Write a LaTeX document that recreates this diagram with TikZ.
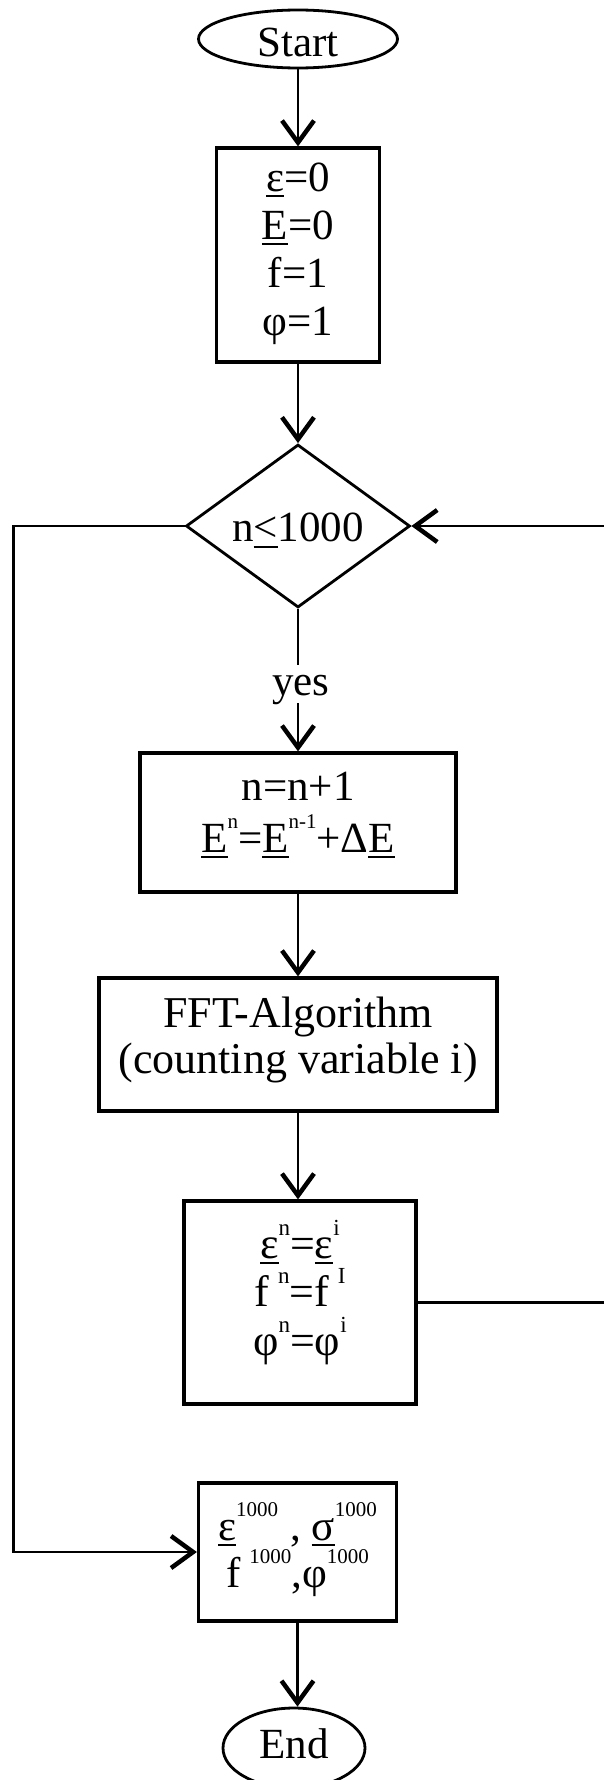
\documentclass[tikz,border=0pt]{standalone}
\usepackage{fontspec}
\setmainfont{Liberation Serif}
\usetikzlibrary{shapes.geometric,arrows.meta}

% underlined symbol with a rule a little below the baseline
\newcommand\ubar[1]{\setbox0=\hbox{#1}\rlap{\rule[-6pt]{\wd0}{2pt}}\box0\relax}
% small raised index, kept out of the line height
\newcommand\hi[1]{\raisebox{24pt}[0pt][0pt]{\fontsize{21}{21}\selectfont #1}}
\newcommand\hib[1]{\raisebox{23pt}[0pt][0pt]{\fontsize{23}{23}\selectfont #1}}

\begin{document}
\begin{tikzpicture}[x=1pt,y=-1pt,
  every node/.style={font=\fontsize{43}{48}\selectfont, inner sep=0pt, align=center},
  box/.style={draw, rectangle, line width=3.2pt},
  term/.style={draw, ellipse, line width=2.8pt},
  link/.style={line width=2.9pt},
  arr/.style={link, -{Straight Barb[length=22pt,width=32pt,line width=4.5pt]}}]

\useasboundingbox (0,0) rectangle (604,1780);

% nodes (text height/depth are measured from the last line's baseline)
\node[term, minimum width=199pt, minimum height=58pt, text height=35pt, text depth=0pt]
  (start) at (298,39) {Start};
\node[box, minimum width=163pt, minimum height=214pt, text height=160pt, text depth=0pt]
  (init) at (298,255) {\ubar{ε}=0\\\ubar{E}=0\\f=1\\φ=1};
\node[draw, diamond, line width=2.8pt, aspect=1.37, minimum width=224pt, minimum height=163pt,
  text height=31pt, text depth=0pt] (cond) at (298,526) {n\ubar{<}1000};
\node[text height=30pt, text depth=8pt, anchor=base] (yes) at (301,695) {yes};
\node[box, minimum width=316pt, minimum height=139pt, font=\fontsize{43}{52}\selectfont,
  text height=65pt, text depth=6pt]
  (incr) at (298,822.5) {n=n+1\\\ubar{E}\hi{n}=\ubar{E}\hi{n-1}+Δ\ubar{E}};
\node[box, minimum width=398pt, minimum height=133pt, font=\fontsize{44}{46}\selectfont,
  text height=67pt, text depth=10pt]
  (fft) at (298,1044.5) {FFT-Algorithm\\(counting variable i)};
\node[box, minimum width=232pt, minimum height=203pt, font=\fontsize{44}{48.5}\selectfont,
  text height=114pt, text depth=9pt]
  (copy) at (300,1302.5)
  {\ubar{ε}\hib{n}=\ubar{ε}\hib{i}\\f\hspace{9pt}\hib{n}=f\hspace{9pt}\hib{I}\\φ\hib{n}=φ\hib{i}};
\node[box, minimum width=198pt, minimum height=138pt, font=\fontsize{43}{47}\selectfont,
  text height=76pt, text depth=6pt]
  (result) at (297.5,1552)
  {\ubar{ε}\hi{1000}\hspace{12pt}, \ubar{σ}\hi{1000}\\f\hspace{9pt}\hi{1000},φ\hi{1000}};
\node[term, minimum width=142pt, minimum height=80pt, text height=30pt, text depth=10pt]
  (end) at (294,1748) {End};

% loop rails
\coordinate (lf) at (13.5,0);
\coordinate (rt) at (612,0);

% connectors
\draw[arr] (start.south) -- (init.north);
\draw[arr] (init.south) -- (cond.north);
\draw[link] (cond.south) -- (cond.south |- yes.north);
\draw[arr] (cond.south |- yes.south) -- (incr.north);
\draw[arr] (incr.south) -- (fft.north);
\draw[arr] (fft.south) -- (fft.south |- copy.north);
\draw[arr] (copy.east) -- (copy.east -| rt) -- (cond.east -| rt) -- (cond.east);
\draw[arr] (cond.west) -- (cond.west -| lf) -- (result.west -| lf) -- (result.west);
\draw[arr] (result.south) -- (result.south |- end.north);
\end{tikzpicture}
\end{document}
